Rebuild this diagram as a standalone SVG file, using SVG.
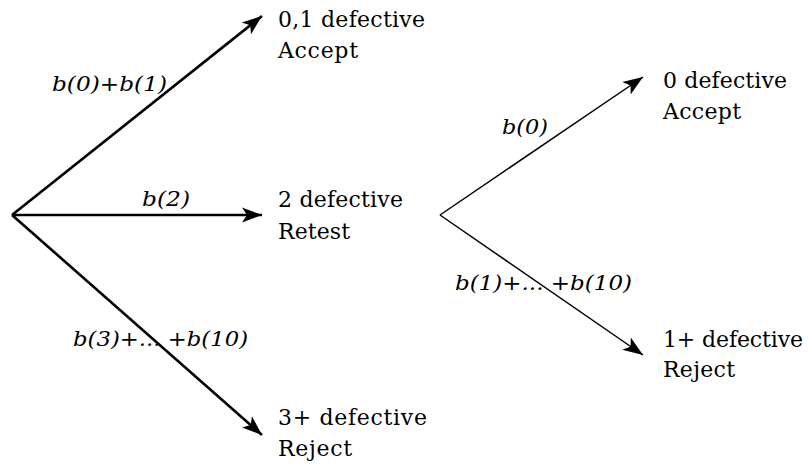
<svg xmlns="http://www.w3.org/2000/svg" width="808" height="464" viewBox="0 0 808 464">
<style>
.node{font-family:"DejaVu Serif","Liberation Serif",serif;font-size:22px;fill:#000}
.lbl{font-family:"DejaVu Serif","Liberation Serif",serif;font-size:20px;font-style:italic;fill:#000}
.thick{stroke:#000;stroke-width:2.6;fill:none}
.thin{stroke:#000;stroke-width:1.5;fill:none}
</style>
<defs>
<marker id="ah" markerUnits="userSpaceOnUse" markerWidth="22" markerHeight="18" viewBox="0 0 22 18" refX="20" refY="9" orient="auto">
<path d="M0,1.5 L20,9 L0,16.5 L5,9 Z" fill="#000"/>
</marker>
</defs>
<rect width="808" height="464" fill="#fff"/>
<g id="connectors">
<line class="thick" x1="12" y1="215" x2="262" y2="16" marker-end="url(#ah)"/>
<line class="thick" x1="12" y1="215" x2="262" y2="215" marker-end="url(#ah)"/>
<line class="thick" x1="12" y1="215" x2="262" y2="435" marker-end="url(#ah)"/>
<line class="thin" x1="440" y1="215" x2="643" y2="77" marker-end="url(#ah)"/>
<line class="thin" x1="440" y1="215" x2="643" y2="355" marker-end="url(#ah)"/>
<text class="lbl" x="52" y="91" textLength="115" lengthAdjust="spacingAndGlyphs">b(0)+b(1)</text>
<text class="lbl" x="142" y="206" textLength="48" lengthAdjust="spacingAndGlyphs">b(2)</text>
<text class="lbl" x="73" y="346" textLength="175" lengthAdjust="spacingAndGlyphs">b(3)+... +b(10)</text>
<text class="lbl" x="502" y="134" textLength="46" lengthAdjust="spacingAndGlyphs">b(0)</text>
<text class="lbl" x="455" y="290" textLength="177" lengthAdjust="spacingAndGlyphs">b(1)+... +b(10)</text>
</g>
<g id="node-accept1">
<text class="node" x="278" y="27" textLength="147" lengthAdjust="spacing">0,1 defective</text>
<text class="node" x="278" y="58" textLength="80" lengthAdjust="spacing">Accept</text>
</g>
<g id="node-retest">
<text class="node" x="278" y="207" textLength="125" lengthAdjust="spacing">2 defective</text>
<text class="node" x="278" y="239" textLength="72" lengthAdjust="spacing">Retest</text>
</g>
<g id="node-reject1">
<text class="node" x="278" y="425" textLength="149" lengthAdjust="spacing">3+ defective</text>
<text class="node" x="278" y="456" textLength="74" lengthAdjust="spacing">Reject</text>
</g>
<g id="node-accept2">
<text class="node" x="663" y="88" textLength="124" lengthAdjust="spacing">0 defective</text>
<text class="node" x="663" y="119" textLength="78" lengthAdjust="spacing">Accept</text>
</g>
<g id="node-reject2">
<text class="node" x="663" y="347" textLength="140" lengthAdjust="spacing">1+ defective</text>
<text class="node" x="663" y="377" textLength="72" lengthAdjust="spacing">Reject</text>
</g>
</svg>
